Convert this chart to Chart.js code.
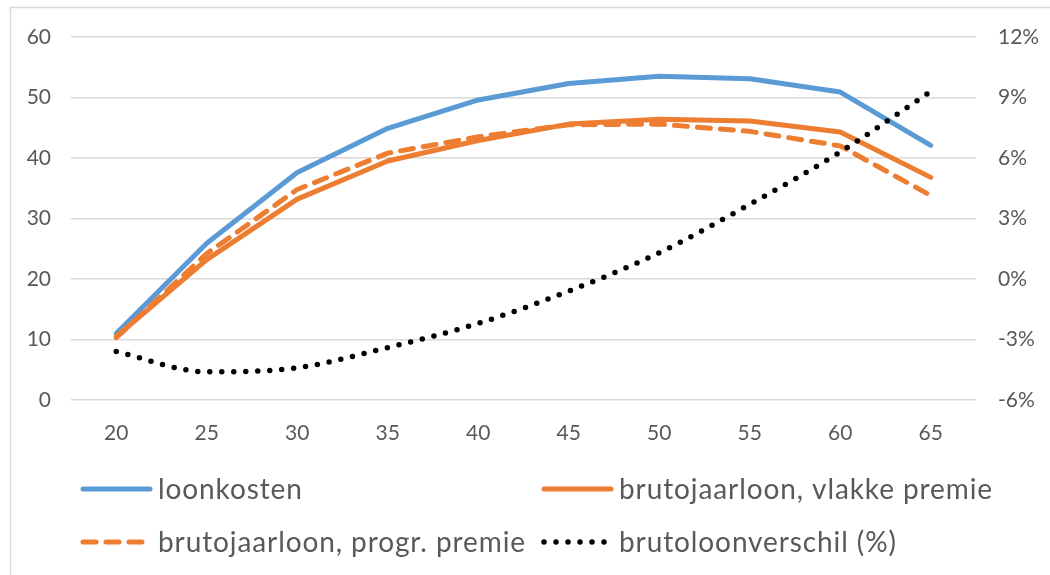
<!DOCTYPE html>
<html>
<head>
<meta charset="utf-8">
<script src="https://cdn.jsdelivr.net/npm/chart.js@4/dist/chart.umd.min.js"></script>
<style>
  html, body { margin: 0; padding: 0; background: #fff; }
  #wrap { width: 1050px; height: 575px; position: relative; }
</style>
</head>
<body>
<div id="wrap"><canvas id="c" width="1050" height="575"></canvas></div>
<script>
// Leeftijden (x-as)
const ages = ['20', '25', '30', '35', '40', '45', '50', '55', '60', '65'];

// Bedragen (linker as, x 1000 euro)
const loonkosten = [11.0, 25.9, 37.6, 44.9, 49.6, 52.3, 53.5, 53.1, 50.9, 42.1];
const brutoVlak = [10.5, 23.2, 33.2, 39.5, 42.9, 45.6, 46.4, 46.1, 44.3, 36.8];
const brutoProgr = [10.3, 24.2, 34.8, 40.8, 43.5, 45.5, 45.6, 44.4, 42.0, 33.8];

// Brutoloonverschil in procenten (rechter as)
const verschil = [-3.6, -4.6, -4.4, -3.4, -2.2, -0.6, 1.3, 3.7, 6.3, 9.3];

// Legendaposities
const legendCols = [81, 542];
const legendRows = [489, 542];

const FONT = 'Lato, "Open Sans", sans-serif';
const GREY = '#595959';

const frame = {
  id: 'frame',
  beforeDraw(chart) {
    const ctx = chart.ctx;
    ctx.save();
    ctx.fillStyle = '#fff';
    ctx.fillRect(0, 0, chart.width, chart.height);
    ctx.strokeStyle = '#d9d9d9';
    ctx.lineWidth = 1.5;
    ctx.strokeRect(10.5, 7.5, 1200, 700);
    ctx.restore();
  }
};

const gridLegend = {
  id: 'gridLegend',
  afterDraw(chart) {
    const ctx = chart.ctx;
    const ds = chart.data.datasets;
    ctx.save();
    ds.forEach((d, i) => {
      const x = legendCols[i % 2];
      const y = legendRows[Math.floor(i / 2)];
      ctx.beginPath();
      ctx.strokeStyle = d.borderColor;
      ctx.lineWidth = d.borderWidth;
      ctx.lineCap = d.borderCapStyle || 'round';
      ctx.setLineDash(d.borderDash || []);
      ctx.moveTo(x + 2, y);
      ctx.lineTo(x + 69, y);
      ctx.stroke();
      ctx.setLineDash([]);
      ctx.fillStyle = GREY;
      ctx.font = '28px ' + FONT;
      if ('letterSpacing' in ctx) ctx.letterSpacing = '0.9px';
      ctx.textBaseline = 'middle';
      ctx.textAlign = 'left';
      ctx.fillText(d.label, x + 77, y + 1);
    });
    ctx.restore();
  }
};

new Chart(document.getElementById('c'), {
  type: 'line',
  data: {
    labels: ages,
    datasets: [
      {
        label: 'loonkosten',
        data: loonkosten,
        borderColor: '#5B9BD5',
        borderWidth: 5,
        borderCapStyle: 'round',
        borderJoinStyle: 'round',
        pointRadius: 0,
        yAxisID: 'y',
        order: 4
      },
      {
        label: 'brutojaarloon, vlakke premie',
        data: brutoVlak,
        borderColor: '#ED7D31',
        borderWidth: 5,
        borderCapStyle: 'round',
        borderJoinStyle: 'round',
        pointRadius: 0,
        yAxisID: 'y',
        order: 3
      },
      {
        label: 'brutojaarloon, progr. premie',
        data: brutoProgr,
        borderColor: '#ED7D31',
        borderWidth: 5,
        borderDash: [13, 10],
        borderCapStyle: 'round',
        borderJoinStyle: 'round',
        pointRadius: 0,
        yAxisID: 'y',
        order: 2
      },
      {
        label: 'brutoloonverschil (%)',
        data: verschil,
        borderColor: '#000000',
        borderWidth: 5.5,
        borderDash: [0, 12],
        borderCapStyle: 'round',
        pointRadius: 0,
        tension: 0.4,
        cubicInterpolationMode: 'monotone',
        yAxisID: 'y1',
        order: 1
      }
    ]
  },
  options: {
    responsive: false,
    animation: false,
    events: [],
    layout: { padding: { left: 0, right: 0, top: 37, bottom: 0 } },
    plugins: {
      legend: { display: false },
      tooltip: { enabled: false }
    },
    scales: {
      x: {
        offset: true,
        grid: { display: false, drawTicks: false },
        border: { display: false },
        ticks: { color: GREY, font: { family: FONT, size: 21 }, padding: 21, maxRotation: 0 },
        afterFit(scale) { scale.height = 175; }
      },
      y: {
        position: 'left',
        min: 0, max: 60,
        grid: { color: '#d9d9d9', lineWidth: 1.5, drawTicks: false },
        border: { display: false },
        ticks: { stepSize: 10, color: GREY, font: { family: FONT, size: 21 }, padding: 20 },
        afterFit(scale) { scale.width = 71; }
      },
      y1: {
        position: 'right',
        min: -6, max: 12,
        grid: { display: false, drawTicks: false },
        border: { display: false },
        ticks: {
          stepSize: 3, color: GREY, font: { family: FONT, size: 21 }, padding: 22,
          callback: v => v + '%'
        },
        afterFit(scale) { scale.width = 74; }
      }
    }
  },
  plugins: [frame, gridLegend]
});
</script>
</body>
</html>
